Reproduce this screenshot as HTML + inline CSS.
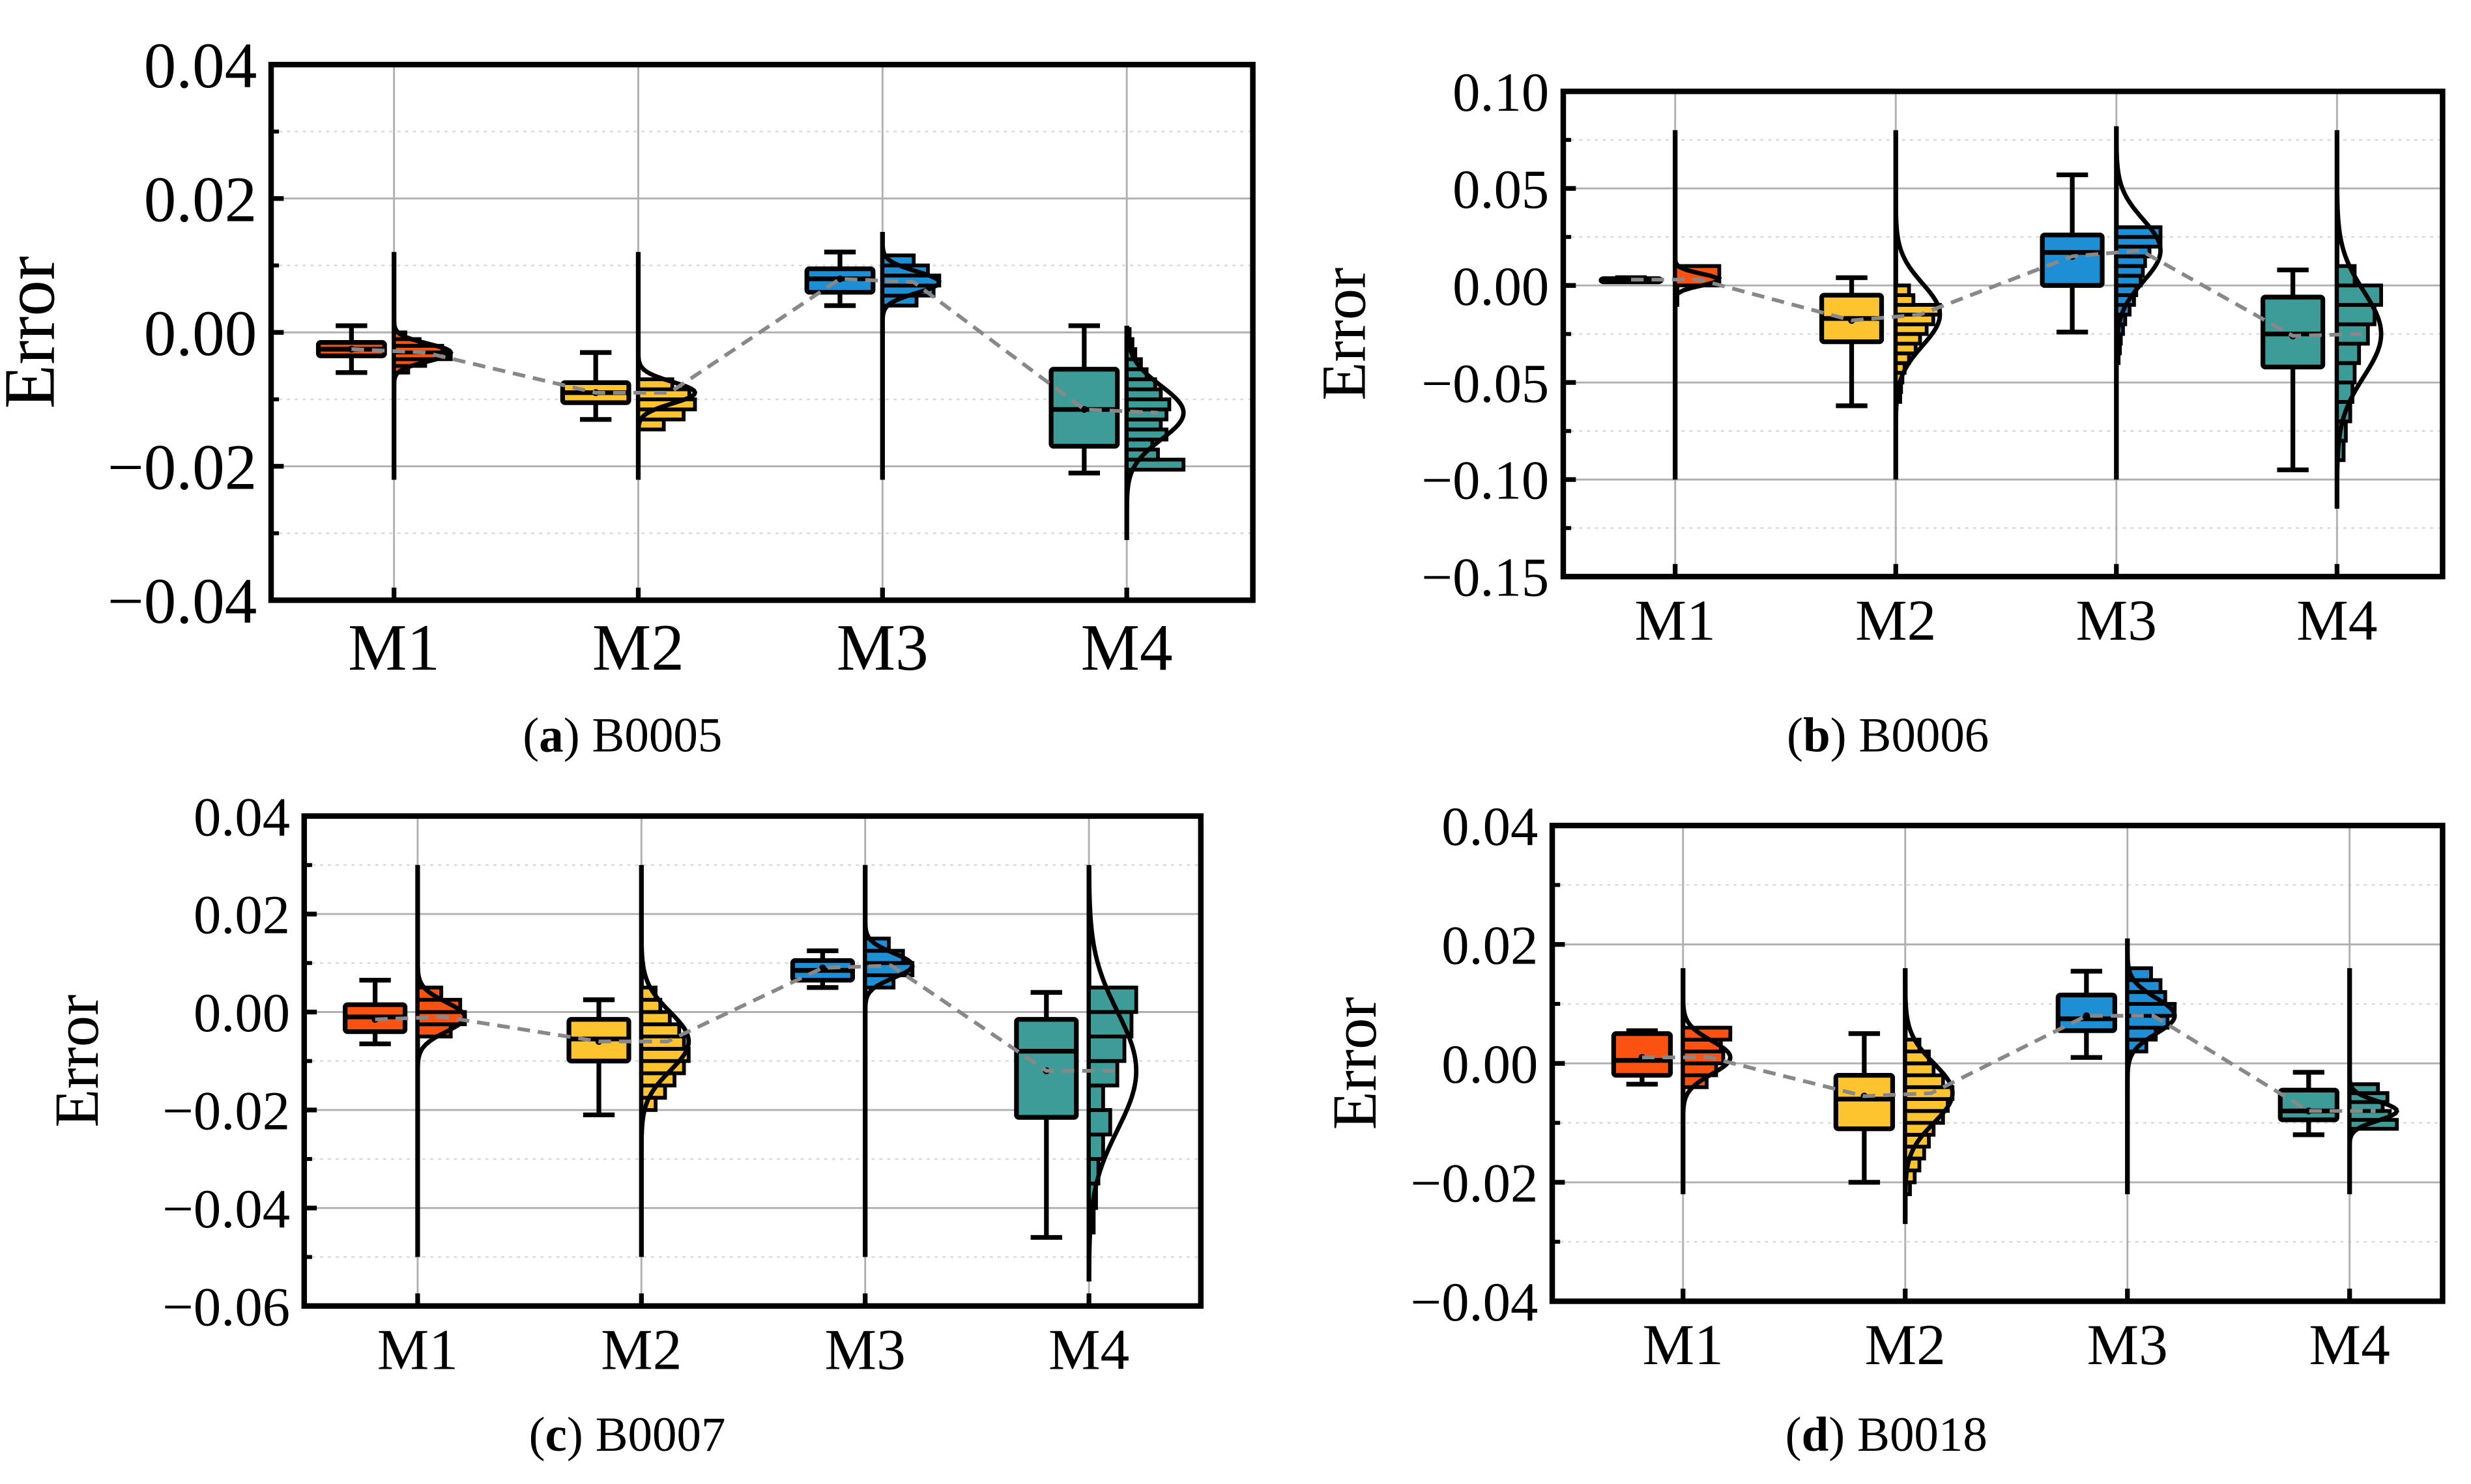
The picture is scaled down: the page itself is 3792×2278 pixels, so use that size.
<!DOCTYPE html>
<html><head><meta charset="utf-8"><style>
html,body{margin:0;padding:0;background:#fff;}
svg{display:block;}
text{font-family:"Liberation Serif",serif;fill:#000;}
</style></head><body>
<svg id="chart" width="3792" height="2278" viewBox="0 0 1568 942" xmlns="http://www.w3.org/2000/svg"></svg>
<script>
const cats=["M1","M2","M3","M4"];
const colors=["#fb5212","#fdc42f","#1e8fd5","#3d9b98"];
// Panel A (B0005)
const A_wLo=[-0.006,-0.013,0.004,-0.021];
const A_q1=[-0.0035,-0.0105,0.006,-0.017];
const A_med=[-0.0025,-0.009,0.008,-0.0115];
const A_q3=[-0.0015,-0.0075,0.0095,-0.0055];
const A_wHi=[0.001,-0.003,0.012,0.001];
const A_mean=[-0.0025,-0.009,0.008,-0.0115];
const A_mu=[-0.003,-0.009,0.0075,-0.012];
const A_sd=[0.0013,0.0016,0.0016,0.004];
const A_spLo=[-0.022,-0.022,-0.022,-0.031];
const A_spHi=[0.012,0.012,0.015,0.001];
const A_binStart=[-0.006,-0.0145,0.004,-0.0205];
const A_binW=[0.001,0.0015,0.0015,0.0015];
const A_hist=[[0.25,0.55,1,0.85,0.45,0.2],[0.45,0.8,1,0.9,0.6],[0.6,0.9,1,0.8,0.55],[1,0.55,0.45,0.7,0.6,0.7,0.75,0.6,0.5,0.35,0.25,0.15,0.1,0.05]];
// Panel B (B0006)
const B_wLo=[0.002,-0.062,-0.024,-0.095];
const B_q1=[0.0025,-0.029,0.0,-0.042];
const B_med=[0.003,-0.017,0.017,-0.025];
const B_q3=[0.0035,-0.005,0.026,-0.006];
const B_wHi=[0.004,0.004,0.057,0.008];
const B_mean=[0.003,-0.018,0.015,-0.026];
const B_mu=[0.003,-0.015,0.018,-0.025];
const B_sd=[0.003,0.016,0.016,0.022];
const B_spLo=[-0.1,-0.1,-0.1,-0.115];
const B_spHi=[0.08,0.08,0.082,0.08];
const B_binStart=[-0.01,-0.06,-0.04,-0.09];
const B_binW=[0.01,0.005,0.005,0.01];
const B_hist=[[0.05,1],[0.1,0.12,0.15,0.2,0.3,0.45,0.55,0.7,0.85,1,0.4,0.3],[0.05,0.08,0.1,0.15,0.2,0.3,0.4,0.45,0.55,0.6,0.65,0.75,1,1],[0.15,0.2,0.3,0.35,0.4,0.5,0.7,0.85,1,0.4]];
// Panel C (B0007)
const C_wLo=[-0.0065,-0.021,0.005,-0.046];
const C_q1=[-0.004,-0.01,0.0065,-0.0215];
const C_med=[-0.001,-0.0055,0.0085,-0.008];
const C_q3=[0.0015,-0.0015,0.0105,-0.0015];
const C_wHi=[0.0065,0.0025,0.0125,0.004];
const C_mean=[-0.0015,-0.006,0.009,-0.012];
const C_mu=[-0.001,-0.006,0.0095,-0.012];
const C_sd=[0.003,0.006,0.0025,0.012];
const C_spLo=[-0.05,-0.05,-0.05,-0.055];
const C_spHi=[0.03,0.03,0.03,0.03];
const C_binStart=[-0.005,-0.02,0.005,-0.045];
const C_binW=[0.0025,0.0025,0.0025,0.005];
const C_hist=[[0.7,1,0.9,0.5],[0.3,0.5,0.7,0.9,1,0.9,0.8,0.6,0.4,0.3],[0.6,1,0.8,0.5],[0.1,0.15,0.2,0.3,0.45,0.3,0.6,0.75,0.9,1]];
// Panel D (B0018)
const D_wLo=[-0.0035,-0.02,0.001,-0.012];
const D_q1=[-0.002,-0.011,0.0055,-0.0095];
const D_med=[0.0005,-0.006,0.0075,-0.008];
const D_q3=[0.005,-0.002,0.0115,-0.0045];
const D_wHi=[0.0055,0.005,0.0155,-0.0015];
const D_mean=[0.001,-0.0055,0.008,-0.008];
const D_mu=[0.001,-0.005,0.008,-0.008];
const D_sd=[0.0028,0.005,0.003,0.0016];
const D_spLo=[-0.022,-0.027,-0.022,-0.022];
const D_spHi=[0.016,0.016,0.021,0.016];
const D_binStart=[-0.004,-0.022,0.002,-0.011];
const D_binW=[0.002,0.002,0.002,0.0015];
const D_hist=[[0.5,0.7,0.85,0.8,1],[0.1,0.2,0.3,0.4,0.5,0.6,0.8,0.9,1,0.8,0.6,0.5,0.3],[0.4,0.6,0.85,1,0.8,0.7,0.5],[1,0.85,0.7,0.8,0.6]];

const yTicksA=[-0.04,-0.02,0.00,0.02,0.04];
const yTicksB=[-0.15,-0.10,-0.05,0.00,0.05,0.10];
const yTicksC=[-0.06,-0.04,-0.02,0.00,0.02,0.04];
const yTicksD=[-0.04,-0.02,0.00,0.02,0.04];

const panels=[
 {id:"a",cap:"B0005",x0:172,x1:795,y0:41,y1:381,ticks:yTicksA,cx0:250,dx:155,boxW:42,gap:6,hmax:36,fs:41,lblFs:46,catFs:42,ylx:34,catY:425,capX:395,capY:477,
  wLo:A_wLo,q1:A_q1,med:A_med,q3:A_q3,wHi:A_wHi,mean:A_mean,mu:A_mu,sd:A_sd,spLo:A_spLo,spHi:A_spHi,bs:A_binStart,bw:A_binW,hist:A_hist},
 {id:"b",cap:"B0006",x0:992,x1:1550,y0:58,y1:366,ticks:yTicksB,cx0:1063,dx:140,boxW:38,gap:9,hmax:28,fs:35,lblFs:40,catFs:37,ylx:866,catY:406,capX:1198,capY:477,
  wLo:B_wLo,q1:B_q1,med:B_med,q3:B_q3,wHi:B_wHi,mean:B_mean,mu:B_mu,sd:B_sd,spLo:B_spLo,spHi:B_spHi,bs:B_binStart,bw:B_binW,hist:B_hist},
 {id:"c",cap:"B0007",x0:193,x1:762,y0:518,y1:829,ticks:yTicksC,cx0:265,dx:142,boxW:38,gap:8,hmax:30,fs:35,lblFs:40,catFs:37,ylx:62,catY:869,capX:398,capY:921,
  wLo:C_wLo,q1:C_q1,med:C_med,q3:C_q3,wHi:C_wHi,mean:C_mean,mu:C_mu,sd:C_sd,spLo:C_spLo,spHi:C_spHi,bs:C_binStart,bw:C_binW,hist:C_hist},
 {id:"d",cap:"B0018",x0:985,x1:1550,y0:524,y1:826,ticks:yTicksD,cx0:1068,dx:141,boxW:36,gap:8,hmax:30,fs:35,lblFs:40,catFs:37,ylx:873,catY:866,capX:1197,capY:921,
  wLo:D_wLo,q1:D_q1,med:D_med,q3:D_q3,wHi:D_wHi,mean:D_mean,mu:D_mu,sd:D_sd,spLo:D_spLo,spHi:D_spHi,bs:D_binStart,bw:D_binW,hist:D_hist}
];

const svg=document.getElementById('chart');
const NS="http://www.w3.org/2000/svg";
function mk(tag,attrs,parent){const e=document.createElementNS(NS,tag);for(const k in attrs)e.setAttribute(k,attrs[k]);parent.appendChild(e);return e;}
function fmt(v){const s=Math.abs(v).toFixed(2);return (v<-1e-9?"\u2212":"")+s;}

panels.forEach(p=>{
  const g=mk('g',{},svg);
  
  
  const ymin=p.ticks[0],ymax=p.ticks[p.ticks.length-1];
  const Y=v=>p.y1-(v-ymin)/(ymax-ymin)*(p.y1-p.y0);
  const X=i=>p.cx0+i*p.dx;
  for(let i=0;i<p.ticks.length;i++){
    const t=p.ticks[i];
    const gl=mk('line',{x1:p.x0,x2:p.x1,y1:Y(t),y2:Y(t),stroke:'#b0b0b0','stroke-width':1.2},g);
    
    
    if(i<p.ticks.length-1){
      const m=(t+p.ticks[i+1])/2;
      const ml=mk('line',{x1:p.x0,x2:p.x1,y1:Y(m),y2:Y(m),stroke:'#d8d8d8','stroke-width':1,'stroke-dasharray':'2,3'},g);
      
      
      const mt=mk('line',{x1:p.x0,x2:p.x0+5,y1:Y(m),y2:Y(m),stroke:'#000','stroke-width':2.5},g);
      
      
    }
    const tk=mk('line',{x1:p.x0,x2:p.x0+8,y1:Y(t),y2:Y(t),stroke:'#000','stroke-width':3},g);
    
    
    const tl=mk('text',{x:p.x0-9,y:Y(t)+p.fs*0.35,'text-anchor':'end','font-size':p.fs},g);
    tl.textContent=fmt(t);
    
    
  }
  cats.forEach((c,i)=>{
    const xl=mk('line',{x1:X(i),x2:X(i),y1:p.y0,y2:p.y1,stroke:'#b0b0b0','stroke-width':1.2},g);
    
    
    const xt=mk('line',{x1:X(i),x2:X(i),y1:p.y1,y2:p.y1-8,stroke:'#000','stroke-width':3},g);
    
    
    const lt=mk('text',{x:X(i),y:p.catY,'text-anchor':'middle','font-size':p.catFs},g);
    lt.textContent=c;
    
    
  });
  const pts=[];
  cats.forEach((c,i)=>{pts.push([X(i)-p.gap-p.boxW/2,Y(p.mean[i])]);pts.push([X(i)+p.hmax*0.55,Y(p.mu[i])]);});
  cats.forEach((c,i)=>{
    const sg=mk('g',{},g);
    
    
    const cx=X(i);
    const sp=mk('line',{x1:cx,x2:cx,y1:Y(p.spLo[i]),y2:Y(p.spHi[i]),stroke:'#000','stroke-width':3},sg);
    
    
    const h=p.hist[i];
    for(let k=0;k<h.length;k++){
      const lo=p.bs[i]+k*p.bw[i],hi=lo+p.bw[i];
      const r=mk('rect',{x:cx,y:Y(hi),width:h[k]*p.hmax,height:Y(lo)-Y(hi),fill:colors[i],stroke:'#000','stroke-width':2.4},sg);
      
      
    }
    let d="";const n=120;
    for(let k=0;k<=n;k++){
      const v=p.spLo[i]+(p.spHi[i]-p.spLo[i])*k/n;
      const z=(v-p.mu[i])/p.sd[i];
      const xx=cx+p.hmax*1.0*Math.exp(-0.5*z*z);
      d+=(k?"L":"M")+xx.toFixed(2)+","+Y(v).toFixed(2);
    }
    const kd=mk('path',{d:d,fill:'none',stroke:'#000','stroke-width':2.8},sg);
    
    
    const bx=cx-p.gap-p.boxW, bc=bx+p.boxW/2;
    const wl=mk('line',{x1:bc,x2:bc,y1:Y(p.wLo[i]),y2:Y(p.wHi[i]),stroke:'#000','stroke-width':3},sg);
    
    
    [p.wLo[i],p.wHi[i]].forEach(v=>{
      const cap=mk('line',{x1:bc-10,x2:bc+10,y1:Y(v),y2:Y(v),stroke:'#000','stroke-width':3},sg);
      
      
    });
    const b=mk('rect',{x:bx,y:Y(p.q3[i]),width:p.boxW,height:Math.max(2,Y(p.q1[i])-Y(p.q3[i])),fill:colors[i],stroke:'#000','stroke-width':3,rx:1.5},sg);
    
    
    const md=mk('line',{x1:bx,x2:bx+p.boxW,y1:Y(p.med[i]),y2:Y(p.med[i]),stroke:'#000','stroke-width':3},sg);
    
    
    const mp=mk('circle',{cx:bc,cy:Y(p.mean[i]),r:2.2,fill:'#000'},sg);
    
    
  });
  const dl=mk('polyline',{points:pts.map(q=>q[0].toFixed(1)+","+q[1].toFixed(1)).join(" "),fill:'none',stroke:'#888','stroke-width':2.4,'stroke-dasharray':'8,5'},g);
  
  
  const fr=mk('rect',{x:p.x0,y:p.y0,width:p.x1-p.x0,height:p.y1-p.y0,fill:'none',stroke:'#000','stroke-width':3.5},g);
  
  
  const yl=mk('text',{x:p.ylx,y:(p.y0+p.y1)/2,'text-anchor':'middle','font-size':p.lblFs,transform:'rotate(-90 '+p.ylx+' '+(p.y0+p.y1)/2+')'},g);
  yl.textContent="Error";
  
  
  const cp=mk('text',{x:p.capX,y:p.capY,'text-anchor':'middle','font-size':31},g);
  
  
  const t1=mk('tspan',{},cp);t1.textContent="(";
  const t2=mk('tspan',{'font-weight':'bold'},cp);t2.textContent=p.id;
  const t3=mk('tspan',{},cp);t3.textContent=") "+p.cap;
});
</script>
</body></html>
